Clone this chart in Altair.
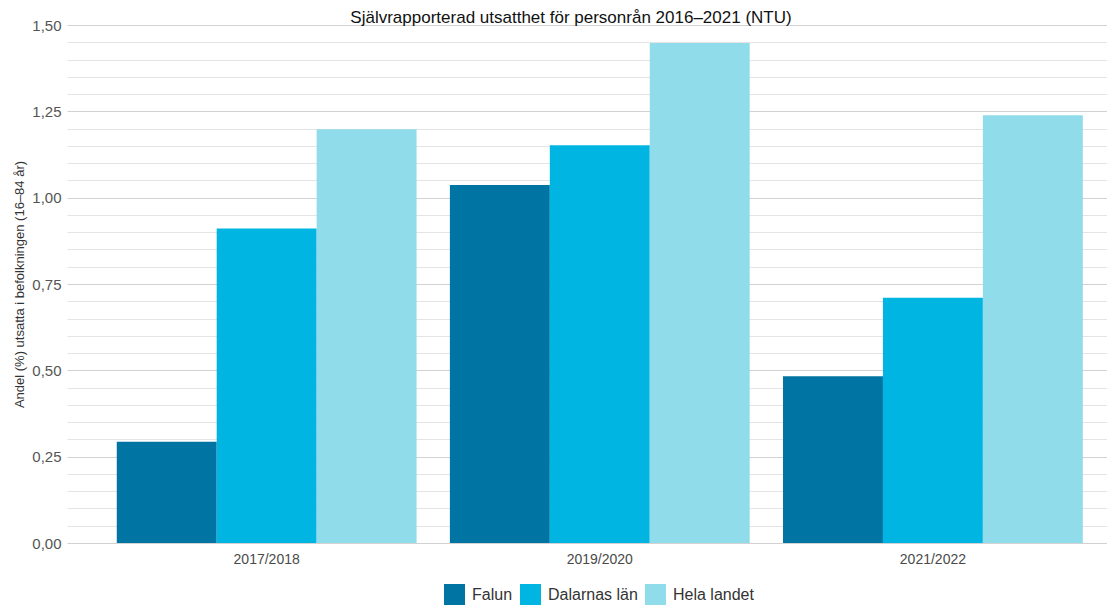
import altair as alt
import pandas as pd

years = ["2017/2018", "2019/2020", "2021/2022"]
series = ["Falun", "Dalarnas län", "Hela landet"]
falun = [0.293, 1.037, 0.483]
dalarna = [0.911, 1.152, 0.710]
hela = [1.198, 1.448, 1.239]
colors = ["#0074a2", "#00b5e2", "#91dcea"]

rows = []
for name, vals in zip(series, [falun, dalarna, hela]):
    for y, v in zip(years, vals):
        rows.append({"period": y, "serie": name, "andel": v})
df = pd.DataFrame(rows)

tick_values = [round(i * 0.05, 2) for i in range(31)]
is_major = "abs(datum.value*4 - round(datum.value*4)) < 0.001"
FONT = "Liberation Sans"

chart = alt.Chart(df).mark_bar().encode(
    x=alt.X("period:N", sort=years,
            scale=alt.Scale(paddingInner=0.1, paddingOuter=0.111, align=0.673),
            axis=alt.Axis(title=None, labelAngle=0, domain=False, ticks=False,
                          labelFontSize=14, labelColor="#4a4a4a", labelPadding=9,
                          labelFont=FONT)),
    xOffset=alt.XOffset("serie:N", sort=series),
    y=alt.Y("andel:Q",
            scale=alt.Scale(domain=[0, 1.5], nice=False),
            axis=alt.Axis(title="Andel (%) utsatta i befolkningen (16–84 år)",
                          values=tick_values,
                          labelExpr=is_major + " ? replace(format(datum.value, '.2f'), '.', ',') : ''",
                          gridColor={"condition": {"test": is_major, "value": "#d2d2d2"},
                                     "value": "#e4e4e4"},
                          gridWidth=1,
                          domain=False, ticks=False, labelFontSize=15,
                          labelColor="#555555", labelPadding=6, labelFont=FONT,
                          titleFontSize=13, titleColor="#333333", titleFontWeight="normal",
                          titleFont=FONT, titlePadding=5)),
    color=alt.Color("serie:N", sort=series,
                    scale=alt.Scale(domain=series, range=colors),
                    legend=alt.Legend(title=None, orient="none", direction="horizontal",
                                      legendX=377, legendY=559, padding=0,
                                      symbolType="square", symbolSize=440,
                                      symbolStrokeWidth=0, symbolOpacity=1,
                                      labelFontSize=16, labelColor="#333333",
                                      labelFont=FONT, labelOffset=7,
                                      columnPadding=7)),
).properties(
    width=1040,
    height=518,
    title=alt.TitleParams(
        "Självrapporterad utsatthet för personrån 2016–2021 (NTU)",
        fontSize=17, font=FONT, fontWeight="normal", color="#111111",
        anchor="middle", baseline="alphabetic", offset=0, dy=22, dx=-16),
    autosize=alt.AutoSizeParams(type="none"),
    padding={"left": 59, "top": 17, "right": 0, "bottom": 62},
).configure_view(stroke=None).configure_axisX(grid=False)

chart.save("out.html", embed_options={"renderer": "svg", "actions": False})
